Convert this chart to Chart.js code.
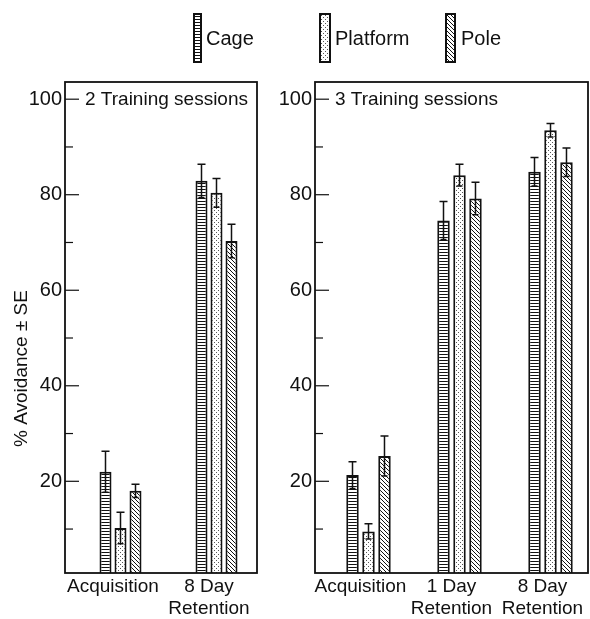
<!DOCTYPE html>
<html>
<head>
<meta charset="utf-8">
<script src="https://cdn.jsdelivr.net/npm/chart.js@4.4.1/dist/chart.umd.min.js"></script>
<style>
  body { margin: 0; background: #fff; }
  #wrap { position: relative; width: 590px; height: 619px; font-family: "Liberation Sans", Arial, sans-serif; color: #111; }
  canvas { position: absolute; top: 0; }
  .item { position: absolute; top: 13px; height: 50px; }
  .item span { position: absolute; top: 14px; font-size: 20px; white-space: nowrap; }
</style>
</head>
<body>
<div id="wrap">
  <canvas id="c2" width="270" height="619" style="left:0"></canvas>
  <canvas id="c3" width="320" height="619" style="left:270px"></canvas>
  <div id="legend"></div>
</div>
<script>
// categories
const cats2 = ["Acquisition", ["8 Day", "Retention"]];
const cats3 = ["Acquisition", ["1 Day", "Retention"], ["8 Day", "Retention"]];
const groups = ["Cage", "Platform", "Pole"];

// 2 training sessions (mean and SE)
const cage2 = [22.0, 82.9];
const cage2Err = [4.3, 3.5];
const platform2 = [10.2, 80.4];
const platform2Err = [3.3, 3.0];
const pole2 = [18.0, 70.3];
const pole2Err = [1.4, 3.5];

// 3 training sessions
const cage3 = [21.3, 74.6, 84.8];
const cage3Err = [2.8, 4.0, 3.0];
const platform3 = [9.5, 84.1, 93.5];
const platform3Err = [1.6, 2.3, 1.4];
const pole3 = [25.3, 79.2, 86.8];
const pole3Err = [4.2, 3.4, 3.0];

Chart.defaults.font.family = "'Liberation Sans', Arial, sans-serif";
Chart.defaults.font.size = 19;
Chart.defaults.color = "#111";

// fill patterns like the old hatching
function makePattern(kind) {
    const c = document.createElement("canvas");
    const x = c.getContext("2d");
    c.width = 4; c.height = kind === "lines" ? 3 : 4;
    x.fillStyle = "#fff";
    x.fillRect(0, 0, c.width, c.height);
    if (kind === "lines") {
        x.fillStyle = "#111";
        x.fillRect(0, 0, 4, 1);
    } else if (kind === "dots") {
        x.fillStyle = "#555";
        x.fillRect(0, 0, 1, 1);
        x.fillRect(2, 2, 1, 1);
    } else {
        x.strokeStyle = "#111";
        x.lineWidth = 1;
        x.beginPath();
        x.moveTo(-1, -1); x.lineTo(5, 5);
        x.moveTo(-1, 3); x.lineTo(1, 5);
        x.moveTo(3, -1); x.lineTo(5, 1);
        x.stroke();
    }
    return x.createPattern(c, "repeat");
}
const fills = [makePattern("lines"), makePattern("dots"), makePattern("diag")];

// box, inward ticks, panel title and error bars
const panelDeco = {
    id: "panelDeco",
    afterDatasetsDraw(chart, args, opts) {
        const ctx = chart.ctx;
        const a = chart.chartArea;
        const y = chart.scales.y;
        ctx.save();
        ctx.strokeStyle = "#111";
        ctx.fillStyle = "#111";

        // error bars
        ctx.lineWidth = 1.5;
        opts.errors.forEach((errs, i) => {
            const meta = chart.getDatasetMeta(i + 1);
            const vals = chart.data.datasets[i + 1].data;
            meta.data.forEach((bar, j) => {
                const top = y.getPixelForValue(vals[j] + errs[j]);
                const bot = y.getPixelForValue(vals[j] - errs[j]);
                ctx.beginPath();
                ctx.moveTo(bar.x, top); ctx.lineTo(bar.x, bot);
                ctx.moveTo(bar.x - 4, top); ctx.lineTo(bar.x + 4, top);
                ctx.moveTo(bar.x - 3, bot); ctx.lineTo(bar.x + 3, bot);
                ctx.stroke();
            });
        });

        // frame
        ctx.lineWidth = 1.8;
        ctx.strokeRect(a.left, a.top, a.right - a.left, a.bottom - a.top);

        // ticks pointing inside
        ctx.lineWidth = 1.2;
        y.ticks.forEach(t => {
            const py = y.getPixelForValue(t.value);
            const len = t.value % 20 === 0 ? 14 : 8;
            ctx.beginPath();
            ctx.moveTo(a.left, py); ctx.lineTo(a.left + len, py);
            ctx.stroke();
        });

        // panel title
        ctx.font = "19px 'Liberation Sans', Arial, sans-serif";
        ctx.textBaseline = "middle";
        ctx.textAlign = "left";
        ctx.fillText(opts.title, a.left + 20, y.getPixelForValue(100) + 1);

        // y axis title
        if (opts.yTitle) {
            ctx.translate(22, (a.top + a.bottom) / 2 + 41);
            ctx.rotate(-Math.PI / 2);
            ctx.textAlign = "center";
            ctx.fillText(opts.yTitle, 0, 0);
        }
        ctx.restore();
    }
};

function makeChart(id, labels, series, errors, title, yTitle, axisWidth, padRight, catPct, barPct) {
    const datasets = [{ label: "", data: labels.map(() => null) }]; // empty slot, shifts groups right
    series.forEach((s, i) => {
        datasets.push({
            label: groups[i],
            data: s,
            backgroundColor: fills[i],
            borderColor: "#111",
            borderWidth: 2,
            categoryPercentage: catPct,
            barPercentage: barPct
        });
    });
    datasets[0].categoryPercentage = catPct;
    datasets[0].barPercentage = barPct;

    return new Chart(document.getElementById(id), {
        type: "bar",
        data: { labels: labels, datasets: datasets },
        plugins: [panelDeco],
        options: {
            responsive: false,
            animation: false,
            layout: { padding: { top: 82, right: padRight, left: 0, bottom: 0 } },
            plugins: {
                legend: { display: false },
                tooltip: { enabled: false },
                panelDeco: { errors: errors, title: title, yTitle: yTitle }
            },
            scales: {
                x: {
                    grid: { display: false, drawTicks: false },
                    border: { display: false },
                    ticks: { padding: 2, maxRotation: 0, autoSkip: false },
                    afterFit: s => { s.height = 46; }
                },
                y: {
                    min: 0.8,
                    max: 103.6,
                    grid: { display: false, drawTicks: false },
                    border: { display: false },
                    ticks: {
                        stepSize: 10,
                        includeBounds: false,
                        padding: 3,
                        font: { size: 20 },
                        callback: v => (v % 20 === 0 ? v : "")
                    },
                    afterFit: s => { s.width = axisWidth; }
                }
            }
        }
    });
}

makeChart("c2", cats2, [cage2, platform2, pole2], [cage2Err, platform2Err, pole2Err],
    "2 Training sessions", "% Avoidance \u00b1 SE", 65, 13, 0.625, 0.8);
makeChart("c3", cats3, [cage3, platform3, pole3], [cage3Err, platform3Err, pole3Err],
    "3 Training sessions", null, 45, 2, 0.703, 0.78);

// legend across both panels
const legendPos = [
    { x: 193, w: 9, text: 206 },
    { x: 319, w: 12, text: 335 },
    { x: 445, w: 11, text: 461 }
];
const legend = document.getElementById("legend");
groups.forEach((g, i) => {
    const p = legendPos[i];
    const sw = document.createElement("canvas");
    sw.width = p.w; sw.height = 50;
    sw.style.left = p.x + "px";
    sw.style.top = "13px";
    const x = sw.getContext("2d");
    x.fillStyle = fills[i];
    x.fillRect(0, 0, p.w, 50);
    x.strokeStyle = "#111";
    x.lineWidth = 2;
    x.strokeRect(1, 1, p.w - 2, 48);
    legend.appendChild(sw);
    const t = document.createElement("div");
    t.className = "item";
    t.style.left = p.text + "px";
    t.innerHTML = "<span>" + g + "</span>";
    legend.appendChild(t);
});
</script>
</body>
</html>
